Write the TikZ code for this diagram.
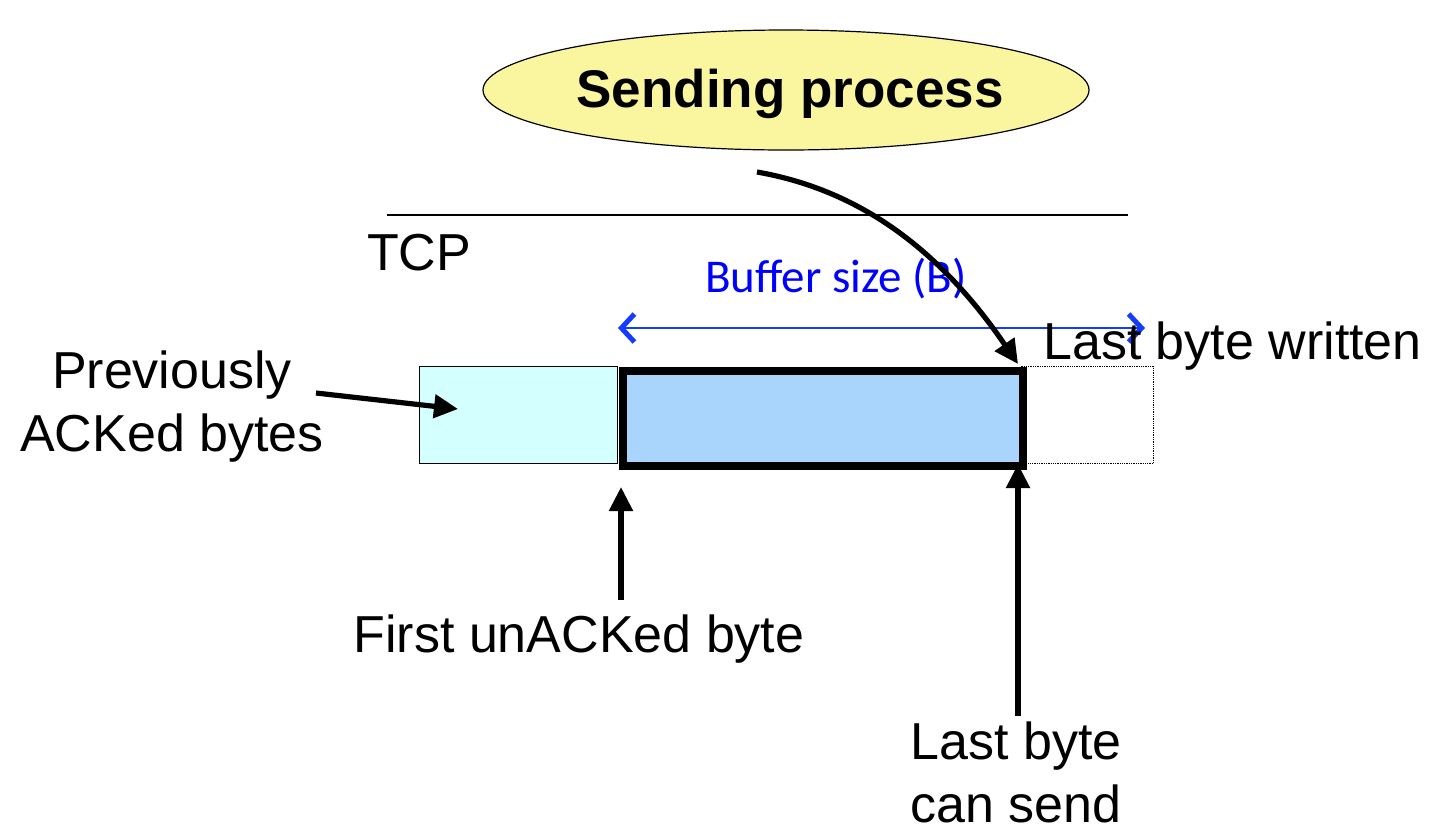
\documentclass[tikz,border=0pt]{standalone}
\usepackage{fontspec}
\setmainfont{Liberation Sans}
\newfontfamily\calib{Carlito}
\usetikzlibrary{arrows.meta,shapes.geometric}
\definecolor{ellfill}{RGB}{250,246,160}
\definecolor{ackfill}{RGB}{212,255,255}
\definecolor{buffill}{RGB}{169,212,252}
\definecolor{sizeblue}{RGB}{20,60,255}
\tikzset{
  lbl/.style={inner sep=0pt, font=\fontsize{52}{63}\selectfont, align=center},
  ptr/.style={line width=5.2pt, -{Triangle[length=24pt,width=23pt]}},
}
\begin{document}
\begin{tikzpicture}[x=1pt,y=-1pt]
\useasboundingbox (0,0) rectangle (1432,831);
% ellipse
\node[ellipse, draw, line width=1.2pt, fill=ellfill, minimum width=606pt, minimum height=120pt, inner sep=0pt] (proc) at (786,90) {};
\node[inner sep=0pt, anchor=base, font=\fontsize{53}{63}\selectfont\bfseries] (proctext) at (790,107) {Sending process};
% TCP line
\coordinate (la) at (387,215);
\coordinate (lb) at (1128,215);
\draw[line width=1.5pt] (la) -- (lb);
\node[lbl, anchor=base west] (tcp) at (367,270) {TCP};
% buffer size
\node[inner sep=0pt, anchor=base, text=blue, font=\calib\fontsize{47}{55}\selectfont] (bsize) at (836,292) {Buffer size (B)};
\coordinate (bl) at (618,328);
\coordinate (br) at (1145,328);
\draw[sizeblue, line width=2.5pt, {Straight Barb[length=13pt,width=28pt,line width=5pt]}-{Straight Barb[length=13pt,width=28pt,line width=5pt]}] (bl) -- (br);
% boxes
\node[draw, line width=1.3pt, fill=ackfill, minimum width=198pt, minimum height=97pt, inner sep=0pt, anchor=north west] (acked) at (419,366) {};
\node[draw, densely dotted, line width=1.3pt, minimum width=133pt, minimum height=97pt, inner sep=0pt, anchor=north west] (free) at (1020,366) {};
\node[draw, line width=7.5pt, fill=buffill, minimum width=400pt, minimum height=95pt, inner sep=0pt, anchor=north west] (buf) at (619,367) {};
% labels
\node[lbl, anchor=base] (prev) at (172,451) {Previously\\ACKed bytes};
\node[lbl, anchor=base] (first) at (579,652) {First unACKed byte};
\node[lbl, anchor=base] (lastsend) at (1016,822) {Last byte\\can send};
\node[lbl, anchor=base west] (lastw) at (1043,359) {Last byte written};
% pointers
\coordinate (prevfrom) at (316,393);
\coordinate (prevto) at (458,409);
\draw[ptr] (prevfrom) -- (prevto);
\coordinate (firstfrom) at (621,600);
\coordinate (firstto) at (621,487);
\draw[ptr] (firstfrom) -- (firstto);
\coordinate (lsfrom) at (1018,716);
\coordinate (lsto) at (1018,464);
\draw[ptr] (lsfrom) -- (lsto);
\coordinate (pfrom) at (757,172);
\coordinate (pto) at (1018,364);
\draw[ptr] (pfrom) .. controls (860,190) and (940,250) .. (pto);
\end{tikzpicture}
\end{document}
